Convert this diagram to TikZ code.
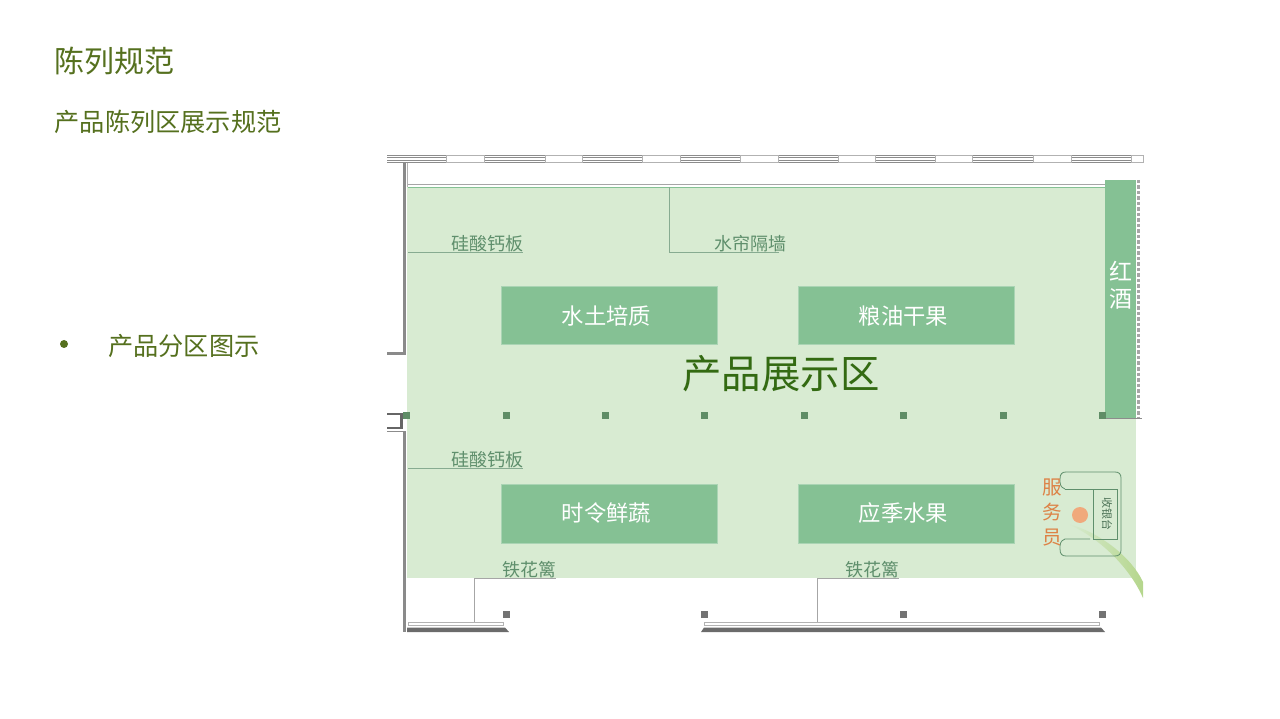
\documentclass[tikz,border=0pt]{standalone}
\usepackage{xcolor}
\usepackage{fontspec}
\setmainfont{Noto Sans CJK SC}
\definecolor{olivetext}{HTML}{55701E}
\definecolor{areagreen}{HTML}{D8EBD2}
\definecolor{boxgreen}{HTML}{85C194}
\definecolor{labelgreen}{HTML}{5F8F6C}
\definecolor{pillargreen}{HTML}{5F8D66}
\definecolor{bigtext}{HTML}{336A12}
\definecolor{wallgray}{HTML}{8A8A8A}
\definecolor{staffcolor}{HTML}{DD8246}
\definecolor{staffdot}{HTML}{F0A97C}
\definecolor{swoosh}{HTML}{B5D68C}
\tikzset{
  areabox/.style={draw=boxgreen!70!white,fill=boxgreen,line width=0.6pt,minimum width=216},
  areatext/.style={text=white,inner sep=0pt,font=\fontsize{22.3}{22}\selectfont},
  notelabel/.style={text=labelgreen,inner sep=0pt,font=\fontsize{18}{18}\selectfont},
  noteline/.style={draw=labelgreen!75!white,line width=0.8pt},
  fenceline/.style={draw=black!35,line width=1pt},
  pillar/.style={fill=pillargreen,draw=none},
  graypillar/.style={fill=black!55,draw=none},
  wallthin/.style={draw=black!45,line width=0.8pt},
  wallthick/.style={draw=wallgray,line width=2.2pt},
  window/.style={fill=white,draw=black!30,line width=0.5pt},
}
\begin{document}
\begin{tikzpicture}[x=1pt,y=-1pt]
\useasboundingbox (0,0) rectangle (1280,719);
%标题
\node[text=olivetext,inner sep=0pt,anchor=west,font=\fontsize{30}{30}\selectfont] (title) at (54.5,61) {陈列规范};
\node[text=olivetext,inner sep=0pt,anchor=west,font=\fontsize{25.2}{25}\selectfont] (subtitle) at (54.5,122) {产品陈列区展示规范};
\fill[olivetext] (64,344) circle (4);
\node[text=olivetext,inner sep=0pt,anchor=west,font=\fontsize{25.2}{25}\selectfont] (bullet) at (108,346) {产品分区图示};
%展示区
\fill[areagreen] (407,187) rectangle (1136,578);
%上墙
\draw[wallthin] (387,155) -- (1143,155);
\draw[wallthin] (387,157.5) -- (1143,157.5);
\draw[wallthin] (387,160) -- (1143,160);
\draw[wallthin] (387,162.5) -- (1143,162.5);
\draw[window] (446,155) rectangle (484,162.5);
\draw[window] (545,155) rectangle (582,162.5);
\draw[window] (642,155) rectangle (680,162.5);
\draw[window] (740,155) rectangle (778,162.5);
\draw[window] (838,155) rectangle (875,162.5);
\draw[window] (935,155) rectangle (972,162.5);
\draw[window] (1033,155) rectangle (1071,162.5);
\draw[window] (1131,155) rectangle (1143,162.5);
\draw[draw=black!35,line width=1.6pt] (408,184.5) -- (1105,184.5);
\draw[draw=boxgreen,line width=0.8pt] (408,187) -- (1105,187);
%左墙
\draw[wallthick,line width=3pt] (404.5,163) -- (404.5,354);
\draw[wallthin,draw=black!30] (407.5,163) -- (407.5,187);
\draw[wallthick] (387,353.5) -- (406,353.5);
\draw[wallthick,line width=3pt] (404.5,431) -- (404.5,632);
\draw[wallthin] (387,431.5) -- (406,431.5);
\draw[draw=black!60,line width=2.4pt] (387,414) -- (401.5,414) -- (401.5,428) -- (387,428);
%红酒
\node[draw=none,fill=boxgreen,minimum width=31,minimum height=238,anchor=north west] (wine) at (1105,180) {};
\node[text=white,inner sep=0pt,align=center,font=\fontsize{23}{27}\selectfont] (winetext) at (1121,285) {红\\酒};
\draw[line width=3.5pt,draw=black!35,dotted] (1138.5,180) -- (1138.5,418);
\draw[wallthin] (1105,418) -- (1142,418);
%柱子
\fill[pillar] (402.5,411.5) rectangle +(7,7);
\fill[pillar] (502.5,411.5) rectangle +(7,7);
\fill[pillar] (601.5,411.5) rectangle +(7,7);
\fill[pillar] (700.5,411.5) rectangle +(7,7);
\fill[pillar] (800.5,411.5) rectangle +(7,7);
\fill[pillar] (899.5,411.5) rectangle +(7,7);
\fill[pillar] (999.5,411.5) rectangle +(7,7);
\fill[pillar] (1098.5,411.5) rectangle +(7,7);
\fill[graypillar] (502.5,610.5) rectangle +(7,7);
\fill[graypillar] (700.5,610.5) rectangle +(7,7);
\fill[graypillar] (899.5,610.5) rectangle +(7,7);
\fill[graypillar] (1098.5,610.5) rectangle +(7,7);
%分区
\node[areabox,minimum height=58] (soil) at (609,315.7) {};
\node[areabox,minimum height=58] (grain) at (906,315.7) {};
\node[areabox,minimum height=59] (veg) at (609,513.5) {};
\node[areabox,minimum height=59] (fruit) at (906,513.5) {};
\node[areatext] (soiltext) at ([xshift=-2.5pt]soil) {水土培质};
\node[areatext] (graintext) at ([xshift=-2.5pt]grain) {粮油干果};
\node[areatext] (vegtext) at ([xshift=-2.5pt]veg) {时令鲜蔬};
\node[areatext] (fruittext) at ([xshift=-2.5pt]fruit) {应季水果};
\node[text=bigtext,inner sep=0pt,font=\fontsize{39.4}{39}\selectfont] (main) at (781,374) {产品展示区};
%隔墙
\draw[noteline] (408,252) -- (523,252);
\draw[noteline] (669,187) -- (669,252) -- (779,252);
\draw[noteline] (408,468) -- (523,468);
\node[notelabel] (slabA) at (487.7,243.5) {硅酸钙板};
\node[notelabel] (curtain) at (750,243.5) {水帘隔墙};
\node[notelabel] (slabB) at (487.7,459.5) {硅酸钙板};
%下墙
\draw[fenceline] (474,622) -- (474,578) -- (556,578);
\draw[fenceline] (817,622) -- (817,578) -- (899,578);
\node[notelabel] (fenceA) at (529,569.5) {铁花篱};
\node[notelabel] (fenceB) at (872.5,569.5) {铁花篱};
\draw[wallthin,draw=black!30] (408,622) rectangle (503,625);
\draw[wallthin,draw=black!30] (704,622) rectangle (1099,625);
\fill[black!58] (407,632) -- (407,627.5) -- (505,627.5) -- (509,632) -- cycle;
\fill[black!58] (701,632) -- (704,627.5) -- (1101,627.5) -- (1105,632) -- cycle;
%收银台
\shade[left color=areagreen,right color=swoosh] (1068,524) .. controls (1100,532) and (1132,558) .. (1143,582) -- (1143,598) .. controls (1130,568) and (1100,538) .. cycle;
\draw[noteline,draw=labelgreen,line width=0.8pt] (1065,489) .. controls (1060,487) and (1060,484) .. (1060,479) .. controls (1060,474) and (1062,472) .. (1066,472) -- (1115,472) .. controls (1119,472) and (1121,474) .. (1121,478) -- (1121,550) .. controls (1121,554) and (1119,556) .. (1115,556) -- (1066,556) .. controls (1062,556) and (1060,554) .. (1060,549) .. controls (1060,544) and (1060,541) .. (1065,539) -- (1090,539);
\draw[noteline,draw=labelgreen,line width=0.8pt] (1065,489) -- (1117,489) -- (1117,539) -- (1093,539) -- (1093,489);
\node[text=labelgreen!80!black,inner sep=0pt,rotate=-90,font=\fontsize{11}{11}\selectfont] (cashier) at (1107,514) {收银台};
\fill[staffdot] (1080,515) circle (8);
\node[text=staffcolor,inner sep=0pt,align=center,font=\fontsize{19.5}{25}\selectfont] (staff) at (1052.5,512) {服\\务\\员};
\end{tikzpicture}
\end{document}
